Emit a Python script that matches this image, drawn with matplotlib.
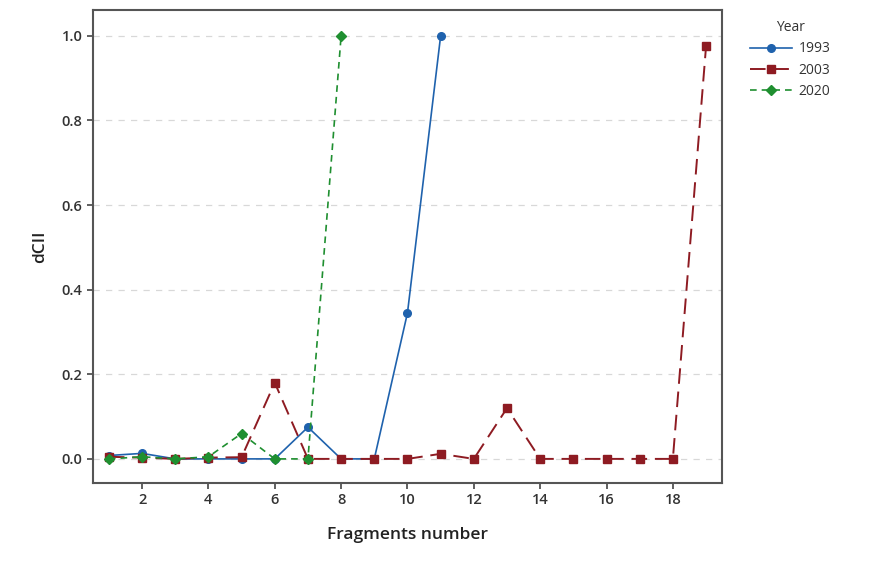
import matplotlib.pyplot as plt

plt.rcParams['font.family'] = ['Open Sans', 'DejaVu Sans']

# data
x_1993 = [1, 2, 3, 4, 5, 6, 7, 8, 9, 10, 11]
y_1993 = [0.008, 0.013, 0.0, 0.0, 0.0, 0.0, 0.075, 0.0, 0.0, 0.345, 1.0]

x_2003 = list(range(1, 20))
y_2003 = [0.005, 0.003, 0.0, 0.003, 0.004, 0.18, 0.0, 0.0, 0.0, 0.0,
          0.012, 0.0, 0.12, 0.0, 0.0, 0.0, 0.0, 0.0, 0.975]

x_2020 = [1, 2, 3, 4, 5, 6, 7, 8]
y_2020 = [0.0, 0.005, 0.0, 0.005, 0.06, 0.0, 0.0, 1.0]

x_ticks = [2, 4, 6, 8, 10, 12, 14, 16, 18]
y_ticks = [0.0, 0.2, 0.4, 0.6, 0.8, 1.0]

fig = plt.figure(figsize=(8.73, 5.64), dpi=100)
ax = fig.add_axes([0.1065, 0.1436, 0.7205, 0.8387])

ax.plot(x_1993, y_1993, color='#1f62ad', marker='o', markersize=5.5,
        linewidth=1.2, linestyle='-', label='1993', zorder=2)
ax.plot(x_2003, y_2003, color='#8e1b22', marker='s', markersize=5.5,
        linewidth=1.4, dashes=(8, 4), label='2003', zorder=3)
ax.plot(x_2020, y_2020, color='#1f8f30', marker='D', markersize=5,
        linewidth=1.2, dashes=(4, 3), label='2020', zorder=4)

ax.set_xlim(0.52, 19.48)
ax.set_ylim(-0.057, 1.061)
ax.set_xticks(x_ticks)
ax.set_yticks(y_ticks)
ax.set_yticklabels([f'{v:.1f}' for v in y_ticks])
ax.yaxis.grid(True, linestyle=(0, (5, 5)), color='#d8d8d8', linewidth=0.9)
ax.set_axisbelow(True)

for s in ax.spines.values():
    s.set_color('#555555')
    s.set_linewidth(1.5)
ax.tick_params(axis='both', direction='out', length=4, width=1.2,
               color='#444444', labelsize=10.5, labelcolor='#333333')
for lab in ax.get_xticklabels() + ax.get_yticklabels():
    lab.set_fontweight('semibold')

ax.set_xlabel('Fragments number', fontsize=12.5, color='#222222',
              labelpad=14, fontweight='semibold')
ax.set_ylabel('dCII', fontsize=12.5, color='#222222',
              labelpad=10, fontweight='semibold')

leg = fig.legend(loc='upper left', bbox_to_anchor=(0.853, 0.974), title='Year',
                 frameon=False, fontsize=10, title_fontsize=10,
                 handlelength=3.0, borderaxespad=0, labelspacing=0.45,
                 handletextpad=0.5)
for t in leg.get_texts():
    t.set_color('#333333')
leg.get_title().set_color('#333333')

fig.savefig('out.png', dpi=100)
